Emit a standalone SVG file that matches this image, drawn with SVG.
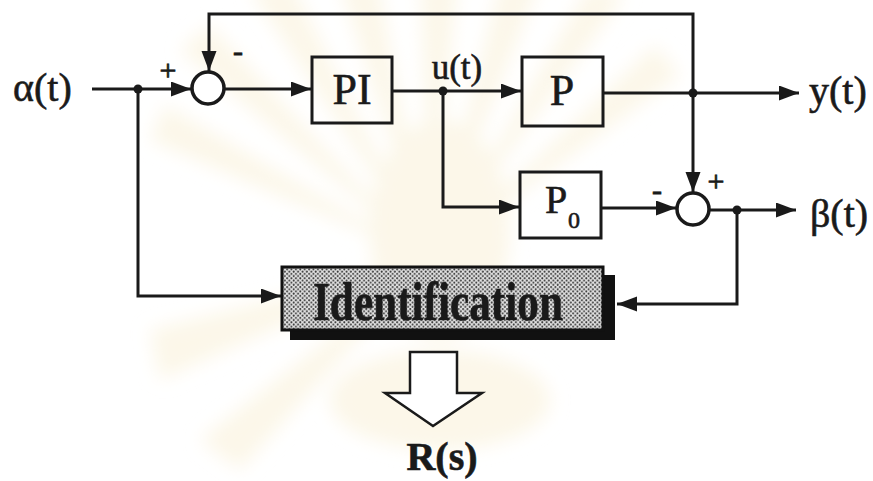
<svg xmlns="http://www.w3.org/2000/svg" width="873" height="481" viewBox="0 0 873 481">
  <style>
    .wire { fill: none; stroke: #1a1a1a; stroke-width: 3; stroke-linejoin: miter; }
    .arrow { marker-end: url(#head); }
    .block { fill: none; stroke: #1a1a1a; stroke-width: 3; }
    .sum { fill: #ffffff; stroke: #1a1a1a; stroke-width: 3.5; }
    .dot { fill: #1a1a1a; }
    .lbl { fill: #1a1a1a; stroke: #1a1a1a; stroke-width: 0.6; }
    .sign { fill: #1a1a1a; stroke: #1a1a1a; stroke-width: 0.8; font-size: 30px; }
    .ray { fill: #fcf7e9; }
  </style>
  <defs>
    <marker id="head" markerUnits="userSpaceOnUse" markerWidth="21" markerHeight="16" refX="20" refY="7.5" orient="auto">
      <path d="M0,0 L20,7.5 L0,15 Z" fill="#1a1a1a"/>
    </marker>
    <!-- screened halftone fill for the identification block -->
    <pattern id="screen" width="4.4" height="4.4" patternUnits="userSpaceOnUse">
      <rect width="4.4" height="4.4" fill="#e2e2e2"/>
      <circle cx="1.1" cy="1.1" r="1" fill="#3a3a3a"/>
      <circle cx="3.3" cy="3.3" r="1" fill="#3a3a3a"/>
    </pattern>
    <filter id="soft" x="-10%" y="-10%" width="120%" height="120%">
      <feGaussianBlur stdDeviation="9"/>
    </filter>
  </defs>

  <rect width="873" height="481" fill="#ffffff"/>

  <!-- faint sunburst emblem printed behind the figure -->
  <g id="backdrop" filter="url(#soft)">
    <path class="ray" d="M430,260 L150,140 L165,105 Z"/>
    <path class="ray" d="M430,260 L180,50 L210,25 Z"/>
    <path class="ray" d="M430,260 L250,-10 L290,-20 Z"/>
    <path class="ray" d="M430,260 L335,-30 L375,-35 Z"/>
    <path class="ray" d="M430,260 L420,-40 L460,-40 Z"/>
    <path class="ray" d="M430,260 L505,-35 L545,-30 Z"/>
    <path class="ray" d="M430,260 L590,-15 L625,-5 Z"/>
    <path class="ray" d="M430,260 L655,45 L680,75 Z"/>
    <path class="ray" d="M430,260 L150,330 L160,380 Z"/>
    <path class="ray" d="M430,260 L200,440 L240,470 Z"/>
    <ellipse class="ray" cx="440" cy="230" rx="70" ry="110"/>
    <ellipse class="ray" cx="440" cy="400" rx="110" ry="50"/>
  </g>

  <!-- connectors -->
  <g id="connectors">
    <!-- alpha input into first summing junction -->
    <path class="wire arrow" d="M92,89 H191"/>
    <!-- summing junction to PI -->
    <path class="wire arrow" d="M224,89 H311"/>
    <!-- PI to P -->
    <path class="wire arrow" d="M392,91 H521"/>
    <!-- P output to y(t) -->
    <path class="wire arrow" d="M603,93 H799"/>
    <!-- y feedback over the top, down into first junction -->
    <path class="wire arrow" d="M693,93 V14 H209 V71"/>
    <!-- y down into second junction -->
    <path class="wire arrow" d="M693,93 V192"/>
    <!-- u(t) branch to P0 -->
    <path class="wire arrow" d="M443,91 V207 H519"/>
    <!-- P0 into second junction -->
    <path class="wire arrow" d="M601,208 H676"/>
    <!-- second junction to beta(t) -->
    <path class="wire arrow" d="M709,210 H796"/>
    <!-- alpha to identification -->
    <path class="wire arrow" d="M138,89 V296 H281"/>
    <!-- beta to identification -->
    <path class="wire arrow" d="M737,210 V304 H617"/>
    <!-- branch points -->
    <circle class="dot" cx="138" cy="89" r="4.5"/>
    <circle class="dot" cx="443" cy="91" r="4.5"/>
    <circle class="dot" cx="693" cy="93" r="4.5"/>
    <circle class="dot" cx="737" cy="210" r="4.5"/>
  </g>

  <!-- signals -->
  <g id="alpha" font-family="'Liberation Serif', 'Times New Roman', 'DejaVu Serif', serif">
    <text class="lbl" x="13" y="101" font-size="40">α(t)</text>
  </g>
  <g id="y-out" font-family="'Liberation Serif', 'Times New Roman', 'DejaVu Serif', serif">
    <text class="lbl" x="809" y="104" font-size="40">y(t)</text>
  </g>
  <g id="beta-out" font-family="'Liberation Serif', 'Times New Roman', 'DejaVu Serif', serif">
    <text class="lbl" x="810" y="227" font-size="40">β(t)</text>
  </g>
  <g id="u-signal" font-family="'Liberation Serif', 'Times New Roman', 'DejaVu Serif', serif">
    <text class="lbl" x="457" y="79" font-size="35" text-anchor="middle">u(t)</text>
  </g>

  <!-- first summing junction -->
  <g id="sum1" font-family="'Liberation Serif', 'Times New Roman', 'DejaVu Serif', serif">
    <circle class="sum" cx="208" cy="88" r="16"/>
    <text class="sign" x="168" y="80" text-anchor="middle">+</text>
    <text class="sign" x="238" y="61" text-anchor="middle">-</text>
  </g>

  <!-- controller -->
  <g id="pi" font-family="'Liberation Serif', 'Times New Roman', 'DejaVu Serif', serif">
    <rect class="block" x="312" y="57" width="80" height="66"/>
    <text class="lbl" x="352" y="104" font-size="44" text-anchor="middle">PI</text>
  </g>

  <!-- plant -->
  <g id="plant" font-family="'Liberation Serif', 'Times New Roman', 'DejaVu Serif', serif">
    <rect class="block" x="522" y="57" width="81" height="69"/>
    <text class="lbl" x="562" y="105" font-size="44" text-anchor="middle">P</text>
  </g>

  <!-- nominal model -->
  <g id="model" font-family="'Liberation Serif', 'Times New Roman', 'DejaVu Serif', serif">
    <rect class="block" x="520" y="172" width="81" height="66"/>
    <text class="lbl" x="545" y="213" font-size="40">P</text>
    <text class="lbl" x="568" y="228" font-size="24">0</text>
  </g>

  <!-- second summing junction -->
  <g id="sum2" font-family="'Liberation Serif', 'Times New Roman', 'DejaVu Serif', serif">
    <circle class="sum" cx="693" cy="209" r="16"/>
    <text class="sign" x="716" y="191" text-anchor="middle">+</text>
    <text class="sign" x="657" y="200" text-anchor="middle">-</text>
  </g>

  <!-- identification block with drop shadow -->
  <g id="identification" font-family="'Liberation Serif', 'Times New Roman', 'DejaVu Serif', serif">
    <rect x="290" y="275" width="325" height="65" fill="#111111"/>
    <rect x="282" y="267" width="321" height="63" fill="url(#screen)" stroke="#111111" stroke-width="3"/>
    <text class="lbl" x="313" y="320" font-size="54" font-weight="bold" textLength="250" lengthAdjust="spacingAndGlyphs">Identification</text>
  </g>

  <!-- result -->
  <g id="result" font-family="'Liberation Serif', 'Times New Roman', 'DejaVu Serif', serif">
    <path d="M410,352 H457 V393 H482 L433,426 L385,393 H410 Z" fill="#ffffff" stroke="#1a1a1a" stroke-width="2.5" stroke-linejoin="miter"/>
    <text class="lbl" x="442" y="470" font-size="40" font-weight="bold" text-anchor="middle">R(s)</text>
  </g>
</svg>
